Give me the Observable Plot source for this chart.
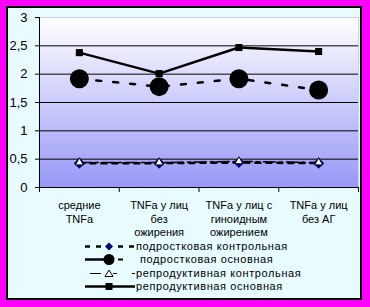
<!DOCTYPE html>
<html>
<head>
<meta charset="utf-8">
<script src="https://cdn.jsdelivr.net/npm/d3@7"></script>
<script src="https://cdn.jsdelivr.net/npm/@observablehq/plot@0.6"></script>
<style>
  html, body { margin: 0; padding: 0; }
  body { width: 370px; height: 307px; background: #FF00FF; position: relative; overflow: hidden; font-family: "Liberation Sans", Arial, sans-serif; }
  #panel { position: absolute; left: 6px; top: 6px; width: 352px; height: 290px; border: 2px solid #000; background: #E8FCFF; }
  #chart { position: absolute; left: 0; top: 0; }
  #legend { position: absolute; left: 85px; top: 240px; font-size: 11px; color: #000; letter-spacing: 0.6px; }
  .row { height: 13.3px; display: flex; align-items: center; white-space: nowrap; }
  .row svg { display: block; flex: none; }
  .row span { margin-left: 1px; line-height: 13px; }
  #chart text.cat { letter-spacing: 0.5px; }
</style>
</head>
<body>
<div id="panel"></div>
<div id="chart"></div>
<div id="legend"></div>
<script>
const categories = ["средние\nTNFa", "TNFa у лиц\nбез\nожирения", "TNFa у лиц с\nгиноидным\nожирением", "TNFa у лиц\nбез АГ"];
const seriesNames = ["подростковая контрольная", "подростковая основная", "репродуктивная контрольная", "репродуктивная основная"];
const podrKontr = [0.43, 0.43, 0.44, 0.43];
const podrOsn   = [1.92, 1.78, 1.92, 1.72];
const reprKontr = [0.44, 0.44, 0.46, 0.44];
const reprOsn   = [2.38, 2.01, 2.47, 2.40];
const yTicks = [0, 0.5, 1, 1.5, 2, 2.5, 3];

const toRows = (vals) => vals.map((v, i) => ({i, v}));
const pk = toRows(podrKontr), po = toRows(podrOsn), rk = toRows(reprKontr), ro = toRows(reprOsn);
const catRows = categories.map((c, i) => ({i, c}));
const boundaries = d3.range(categories.length + 1).map(k => k - 0.5);

const plot = Plot.plot({
  width: 370, height: 307,
  marginLeft: 39, marginRight: 12, marginTop: 17, marginBottom: 120,
  style: {background: "transparent", fontFamily: "'Liberation Sans', Arial, sans-serif", color: "black", overflow: "visible"},
  x: {domain: [-0.5, categories.length - 0.5], axis: null, label: null},
  y: {domain: [0, 3], axis: null, label: null},
  marks: [
    Plot.frame({fill: "url(#plotbg)", stroke: "#C8D0F4"}),
    Plot.ruleY(yTicks.filter(t => t > 0 && t < 3), {stroke: "black", strokeWidth: 1}),
    Plot.ruleY([0], {stroke: "black", strokeWidth: 1}),
    Plot.ruleX([-0.5], {stroke: "black", strokeWidth: 1}),
    Plot.axisY({ticks: yTicks, tickSize: 4, tickPadding: 8, fontSize: 13, stroke: "black", label: null, tickFormat: d => String(d).replace(".", ",")}),
    Plot.axisX({ticks: boundaries, tickSize: 5, tickFormat: () => "", stroke: "black", label: null}),
    Plot.text(catRows, {x: "i", y: 0, text: "c", dy: 12, lineAnchor: "top", lineHeight: 1.23, fontSize: 11, fill: "black", className: "cat"}),
    // lines
    Plot.line(rk, {x: "i", y: "v", stroke: "black", strokeWidth: 1.5, strokeDasharray: "12,4,3,4"}),
    Plot.line(pk, {x: "i", y: "v", stroke: "black", strokeWidth: 2.5, strokeDasharray: "5,6"}),
    Plot.line(po, {x: "i", y: "v", stroke: "black", strokeWidth: 2.5, strokeDasharray: "5,12"}),
    Plot.line(ro, {x: "i", y: "v", stroke: "black", strokeWidth: 2.5}),
    // markers
    Plot.dot(ro, {x: "i", y: "v", symbol: "square", r: 4, fill: "black"}),
    Plot.dot(po, {x: "i", y: "v", symbol: "circle", r: 9.5, fill: "black"}),
    Plot.dot(pk, {x: "i", y: "v", symbol: "diamond2", r: 5, fill: "#000080"}),
    Plot.dot(rk, {x: "i", y: "v", symbol: "triangle", r: 3, fill: "white", stroke: "black", strokeWidth: 1})
  ]
});

d3.select(plot).insert("defs", ":first-child").html(
  '<linearGradient id="plotbg" x1="0" y1="0" x2="0" y2="1">' +
  '<stop offset="0" stop-color="#FFFFFF"/>' +
  '<stop offset="1" stop-color="#9898F8"/>' +
  '</linearGradient>');
document.getElementById("chart").appendChild(plot);

// legend
const swatches = [
  '<line x1="0" y1="6.5" x2="50" y2="6.5" stroke="black" stroke-width="2.5" stroke-dasharray="5,6"/><path d="M24,2.5 L28,6.5 L24,10.5 L20,6.5Z" fill="#000080"/>',
  '<line x1="0" y1="6.5" x2="25" y2="6.5" stroke="black" stroke-width="2.5"/><circle cx="24" cy="6.5" r="5.5" fill="black"/><line x1="33" y1="6.5" x2="38" y2="6.5" stroke="black" stroke-width="2"/>',
  '<line x1="5" y1="6.5" x2="16" y2="6.5" stroke="black" stroke-width="1"/><path d="M24,3 L28,9.5 L20,9.5Z" fill="white" stroke="black" stroke-width="1"/><line x1="28" y1="6.5" x2="32" y2="6.5" stroke="black" stroke-width="1"/><line x1="47" y1="6.5" x2="50" y2="6.5" stroke="black" stroke-width="1"/>',
  '<line x1="0" y1="6.5" x2="50" y2="6.5" stroke="black" stroke-width="2.5"/><rect x="20.5" y="3" width="7" height="7" fill="black"/>'
];
const legend = d3.select("#legend");
seriesNames.forEach((name, k) => {
  const row = legend.append("div").attr("class", "row");
  row.append("svg").attr("width", 50).attr("height", 13).html(swatches[k]);
  row.append("span").style("margin-left", k === 1 ? "5px" : "1px").text(name);
});
</script>
</body>
</html>
